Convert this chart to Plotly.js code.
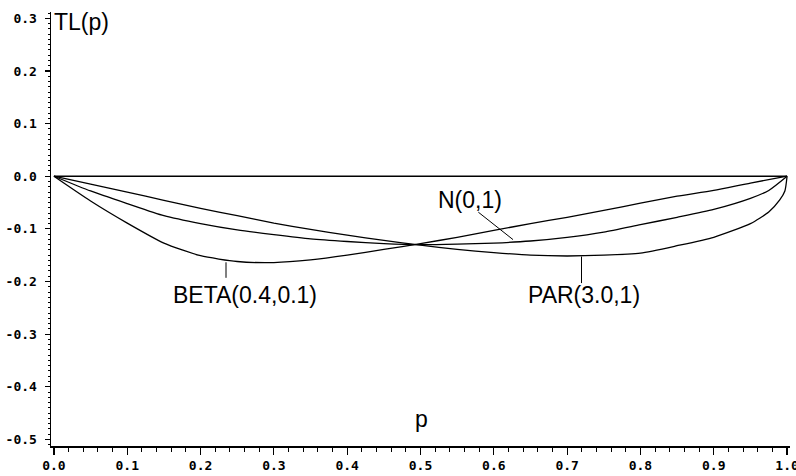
<!DOCTYPE html>
<html>
<head>
<meta charset="utf-8">
<script src="https://cdn.plot.ly/plotly-3.0.1.min.js"></script>
<style>html,body{margin:0;padding:0;background:#fff;}#chart{width:796px;height:476px;}</style>
</head>
<body>
<div id="chart"></div>
<script>
// p grid and TL(p) values
const pBeta = [0, 0.05, 0.1, 0.15, 0.2, 0.25, 0.3, 0.35, 0.4, 0.45, 0.5, 0.55, 0.6, 0.65, 0.7, 0.75, 0.8, 0.85, 0.9, 0.95, 1.0];
const tlBeta = [0, -0.047, -0.089, -0.127, -0.151, -0.162, -0.164, -0.159, -0.150, -0.139, -0.128, -0.116, -0.103, -0.090, -0.078, -0.065, -0.051, -0.038, -0.027, -0.013, 0];

const pNorm = [0, 0.05, 0.1, 0.15, 0.2, 0.25, 0.3, 0.35, 0.4, 0.45, 0.5, 0.55, 0.6, 0.65, 0.7, 0.75, 0.8, 0.85, 0.9, 0.95, 0.975, 1.0];
const tlNorm = [0, -0.028, -0.052, -0.075, -0.090, -0.102, -0.111, -0.119, -0.124, -0.128, -0.130, -0.129, -0.127, -0.123, -0.116, -0.106, -0.092, -0.078, -0.063, -0.042, -0.027, 0];

const pPar = [0, 0.05, 0.1, 0.15, 0.2, 0.25, 0.3, 0.35, 0.4, 0.45, 0.5, 0.55, 0.6, 0.65, 0.7, 0.75, 0.8, 0.85, 0.9, 0.95, 0.975, 0.99, 0.997, 1.0];
const tlPar = [0, -0.015, -0.030, -0.046, -0.061, -0.075, -0.089, -0.101, -0.112, -0.122, -0.131, -0.139, -0.145, -0.150, -0.1515, -0.150, -0.146, -0.132, -0.116, -0.090, -0.068, -0.045, -0.028, 0];

const pRef = [0, 1];
const tlRef = [0, 0];

const xTickVals = [0, 0.1, 0.2, 0.3, 0.4, 0.5, 0.6, 0.7, 0.8, 0.9, 1.0];
const xTickText = ["0.0", "0.1", "0.2", "0.3", "0.4", "0.5", "0.6", "0.7", "0.8", "0.9", "1.0"];
const yTickVals = [-0.5, -0.4, -0.3, -0.2, -0.1, 0.0, 0.1, 0.2, 0.3];
const yTickText = ["-0.5", "-0.4", "-0.3", "-0.2", "-0.1", "0.0", "0.1", "0.2", "0.3"];

const lineStyle = {color: '#000', width: 1.3};
const traces = [
  {x: pRef, y: tlRef, mode: 'lines', line: lineStyle, hoverinfo: 'skip'},
  {x: pBeta, y: tlBeta, mode: 'lines', line: Object.assign({shape: 'spline', smoothing: 0.6}, lineStyle), name: 'BETA(0.4,0.1)'},
  {x: pNorm, y: tlNorm, mode: 'lines', line: Object.assign({shape: 'spline', smoothing: 0.6}, lineStyle), name: 'N(0,1)'},
  {x: pPar, y: tlPar, mode: 'lines', line: Object.assign({shape: 'spline', smoothing: 0.6}, lineStyle), name: 'PAR(3.0,1)'}
];

const labelFont = {family: 'Liberation Sans, Arial, sans-serif', size: 23, color: '#000'};
const tickFont = {family: 'DejaVu Sans Mono', size: 13, color: '#000', weight: 700};

const layout = {
  width: 796, height: 476,
  margin: {l: 51, r: 6, t: 12, b: 30, pad: 0},
  paper_bgcolor: '#fff', plot_bgcolor: '#fff',
  showlegend: false,
  xaxis: {
    range: [-0.004, 1.004], showgrid: false, zeroline: false,
    showline: true, linecolor: '#000', linewidth: 1.5,
    tickmode: 'array', tickvals: xTickVals, ticktext: xTickText,
    ticks: 'outside', ticklen: 7, tickwidth: 1.2, tickcolor: '#000',
    tickfont: tickFont, ticklabeloverflow: 'allow',
    minor: {dtick: 0.02, tick0: 0, ticks: 'outside', ticklen: 4, tickwidth: 1, tickcolor: '#000', showgrid: false}
  },
  yaxis: {
    range: [-0.5125, 0.312], showgrid: false, zeroline: false,
    showline: true, linecolor: '#000', linewidth: 1.5,
    tickmode: 'array', tickvals: yTickVals, ticktext: yTickText,
    ticks: 'outside', ticklen: 5, tickwidth: 1.2, tickcolor: '#000',
    tickfont: tickFont, ticklabelstandoff: 5, ticklabeloverflow: 'allow',
    minor: {dtick: 0.01, tick0: 0, ticks: 'outside', ticklen: 2, tickwidth: 1, tickcolor: '#000', showgrid: false}
  },
  annotations: [
    {x: 0.038, y: 0.293, xref: 'x', yref: 'y', text: 'TL(p)', showarrow: false, font: labelFont},
    {x: 0.502, y: -0.462, xref: 'x', yref: 'y', text: 'p', showarrow: false, font: labelFont},
    {x: 0.5675, y: -0.045, xref: 'x', yref: 'y', text: 'N(0,1)', showarrow: false, font: labelFont},
    {x: 0.2606, y: -0.226, xref: 'x', yref: 'y', text: 'BETA(0.4,0.1)', showarrow: false, font: labelFont},
    {x: 0.723, y: -0.226, xref: 'x', yref: 'y', text: 'PAR(3.0,1)', showarrow: false, font: labelFont}
  ],
  shapes: [
    {type: 'line', xref: 'x', yref: 'y', x0: 0.2347, x1: 0.2347, y0: -0.1635, y1: -0.193, line: {color: '#000', width: 1}},
    {type: 'line', xref: 'x', yref: 'y', x0: 0.7196, x1: 0.7196, y0: -0.1525, y1: -0.203, line: {color: '#000', width: 1}},
    {type: 'line', xref: 'x', yref: 'y', x0: 0.5789, x1: 0.6262, y0: -0.0683, y1: -0.1204, line: {color: '#000', width: 1}}
  ]
};

Plotly.newPlot('chart', traces, layout, {displayModeBar: false, staticPlot: true});
</script>
</body>
</html>
